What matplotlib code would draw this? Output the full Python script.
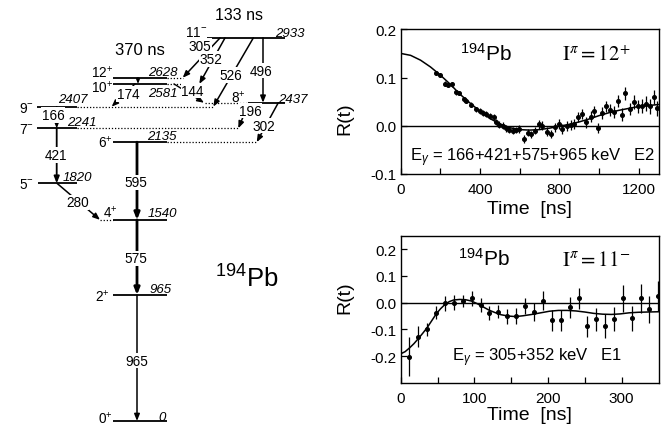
import matplotlib
matplotlib.use('Agg')
import matplotlib.pyplot as plt

plt.rcParams['font.family'] = 'Liberation Sans'
plt.rcParams['mathtext.fontset'] = 'custom'
plt.rcParams['mathtext.rm'] = 'Liberation Sans'
plt.rcParams['mathtext.it'] = 'Liberation Sans:italic'
plt.rcParams['mathtext.bf'] = 'Liberation Sans:bold'
plt.rcParams['mathtext.sf'] = 'Liberation Sans'

# ---------------- level scheme of 194Pb ----------------
level_names = ['0+', '2+', '4+', '5-', '6+', '7-', '9-', '8+', '10+', '12+', '11-']
level_keV = [0, 965, 1540, 1820, 2135, 2241, 2407, 2437, 2581, 2628, 2933]

gamma_keV = [965, 575, 595, 280, 421, 166, 302, 196, 144, 174, 496, 526, 352, 305, 47]
gamma_from = ['2+', '4+', '6+', '5-', '7-', '9-', '8+', '8+', '10+', '10+', '11-', '11-', '11-', '11-', '12+']
gamma_to = ['0+', '2+', '4+', '4+', '5-', '7-', '6+', '7-', '8+', '9-', '8+', '9-', '10+', '12+', '10+']
gamma_labelled = [True] * 14 + [False]

isomer_names = ['133 ns', '370 ns']
nucleus = '194'

# ---------------- R(t) for the 12+ isomer ----------------
t12 = [180, 197, 222, 239, 259, 281, 292, 317, 331, 356, 381, 398, 414, 431, 448,
       468, 481, 498, 515, 532, 548, 565, 582, 598, 620, 640, 657, 677, 699, 715,
       737, 757, 777, 799, 815, 837, 858, 874, 896, 916, 936, 958, 974, 995, 1016,
       1036, 1055, 1075, 1096, 1116, 1133, 1155, 1175, 1195, 1217, 1237, 1255, 1275, 1292]
r12 = [0.110, 0.105, 0.087, 0.085, 0.086, 0.069, 0.068, 0.055, 0.052, 0.044, 0.034,
       0.030, 0.027, 0.025, 0.021, 0.018, 0.008, 0.002, 0.000, -0.005, -0.009, -0.010,
       -0.009, -0.007, -0.028, -0.014, -0.018, -0.010, 0.003, 0.000, -0.012, -0.017,
       -0.003, 0.003, -0.007, 0.000, 0.002, 0.003, 0.018, 0.024, 0.007, 0.019, 0.030,
       -0.005, 0.026, 0.040, 0.033, 0.028, 0.051, 0.023, 0.067, 0.035, 0.049, 0.040,
       0.041, 0.046, 0.040, 0.060, 0.036]
e12 = [0.004, 0.004, 0.005, 0.005, 0.005, 0.005, 0.005, 0.005, 0.005, 0.005, 0.005,
       0.006, 0.006, 0.006, 0.006, 0.006, 0.006, 0.007, 0.007, 0.007, 0.007, 0.007,
       0.007, 0.008, 0.008, 0.008, 0.008, 0.008, 0.009, 0.009, 0.009, 0.009, 0.009,
       0.010, 0.010, 0.010, 0.010, 0.010, 0.010, 0.011, 0.011, 0.011, 0.011, 0.011,
       0.012, 0.012, 0.012, 0.012, 0.013, 0.013, 0.013, 0.013, 0.014, 0.014, 0.014,
       0.015, 0.015, 0.015, 0.015]
fit12_t = [0, 50, 100, 150, 200, 250, 300, 350, 400, 450, 500, 550, 600, 650, 700,
           750, 800, 850, 900, 950, 1000, 1050, 1100, 1150, 1200, 1250, 1300]
fit12_r = [0.150, 0.146, 0.136, 0.122, 0.105, 0.086, 0.065, 0.047, 0.030, 0.015, 0.004,
           -0.004, -0.008, -0.009, -0.008, -0.005, -0.001, 0.003, 0.008, 0.014, 0.021,
           0.027, 0.032, 0.036, 0.040, 0.042, 0.044]

# ---------------- R(t) for the 11- isomer ----------------
t11 = [11.3, 23.6, 35.8, 47.7, 59.9, 72.2, 84.1, 96.3, 108.6, 120.3, 132.6, 144.8,
       156.7, 168.9, 181.2, 193.0, 205.3, 217.6, 229.3, 241.6, 253.0, 265.7, 277.9,
       289.2, 302.0, 314.3, 325.6, 336.9, 349.2]
r11 = [-0.202, -0.127, -0.100, -0.037, -0.003, 0.000, 0.006, 0.016, -0.009, -0.040,
       -0.034, -0.050, -0.050, -0.013, -0.035, 0.008, -0.065, -0.065, -0.018, 0.016,
       -0.088, -0.062, -0.088, -0.062, 0.016, -0.059, 0.016, -0.025, 0.025]
e11 = [0.072, 0.039, 0.025, 0.025, 0.028, 0.028, 0.023, 0.028, 0.025, 0.026, 0.025,
       0.028, 0.029, 0.031, 0.033, 0.035, 0.039, 0.039, 0.039, 0.039, 0.040, 0.042,
       0.045, 0.045, 0.050, 0.045, 0.055, 0.050, 0.056]
fit11_t = [0, 6, 12, 18, 24, 30, 36, 42, 48, 54, 60, 66, 72, 80, 88, 96, 104, 112,
           120, 128, 136, 146, 156, 166, 178, 190, 202, 214, 226, 238, 250, 262, 274,
           286, 298, 310, 322, 334, 350]
fit11_r = [-0.191, -0.183, -0.169, -0.153, -0.134, -0.114, -0.093, -0.068, -0.043,
           -0.023, -0.007, 0.004, 0.010, 0.012, 0.011, 0.006, -0.004, -0.016, -0.028,
           -0.037, -0.045, -0.050, -0.052, -0.049, -0.044, -0.038, -0.032, -0.029,
           -0.029, -0.031, -0.035, -0.040, -0.043, -0.044, -0.042, -0.038, -0.036,
           -0.035, -0.034]

panel_spin = [r'$\mathrm{I}^{\pi} = 12^{+}$', r'$\mathrm{I}^{\pi} = 11^{-}$']
panel_gamma = ['E$_{\\gamma}$ = 166+421+575+965 keV   E2', 'E$_{\\gamma}$ = 305+352 keV   E1']
xticks12 = [0, 400, 800, 1200]
yticks12 = [-0.1, 0.0, 0.1, 0.2]
ytlab12 = ['-0.1', '0.0', '0.1', '0.2']
xticks11 = [0, 100, 200, 300]
yticks11 = [-0.2, -0.1, 0.0, 0.1, 0.2]
ytlab11 = ['-0.2', '-0.1', '0.0', '0.1', '0.2']

# ---------------- figure ----------------
W, H = 663, 427
fig = plt.figure(figsize=(W / 100, H / 100), dpi=100)

# level scheme axes: x in pixels, y in keV (linear energy scale)
Y0, PXK = 422.0, 0.1306


def kev(ypx):
    return (Y0 - ypx) / PXK


def dk(dpx):
    return dpx / PXK


ax0 = fig.add_axes([0, 0, 318 / W, 1])
ax0.set_xlim(0, 318)
ax0.set_ylim(kev(H), kev(0))
ax0.axis('off')

E = dict(zip(level_names, level_keV))

# level lines: solid part and dotted extension (x in px)
solid = {'0+': (113, 167), '2+': (113, 167), '4+': (113, 167), '5-': (38, 77),
         '6+': (113, 167), '7-': (37, 77), '9-': (37, 77), '8+': (248, 285),
         '10+': (113, 167), '12+': (113, 167), '11-': (207, 285)}
dotted = {'4+': (100, 113), '6+': (167, 257), '7-': (77, 238), '9-': (77, 213),
          '8+': (205, 248), '10+': (167, 200), '12+': (167, 183)}
for name in level_names:
    x0, x1 = solid[name]
    ax0.plot([x0, x1], [E[name], E[name]], color='k', lw=1.3, solid_capstyle='butt')
    if name in dotted:
        x0, x1 = dotted[name]
        ax0.plot([x0, x1], [E[name], E[name]], color='k', lw=0.9, ls=(0, (1, 1.5)))

# spin labels: right edge x, baseline offset (px, up)
spin_pos = {'0+': (113, -2), '2+': (110, -5.6), '4+': (118, 3.4), '5-': (34, -5),
            '6+': (113, -4), '7-': (34, -4.3), '9-': (34, -5.6), '8+': (246, 0.7),
            '10+': (113, -8), '12+': (113, 1), '11-': (207, 2)}
# energy labels: left edge x, baseline offset (px, up)
en_pos = {'0+': (158, 0.8), '2+': (150, 3.4), '4+': (148, 3.4), '5-': (63, 3.3),
          '6+': (147, 3.3), '7-': (67, 3), '9-': (58, 4.4), '8+': (278, 0.7),
          '10+': (148, -11.7), '12+': (148, 2.3), '11-': (275, 1.6)}
for name in level_names:
    num, sign = name[:-1], name[-1]
    xs, dy = spin_pos[name]
    ax0.text(xs, E[name] + dk(dy), num + '$^{' + sign + '}$', ha='right', va='baseline',
             fontsize=9.8)
    xe, dy = en_pos[name]
    ax0.text(xe, E[name] + dk(dy), str(E[name]), ha='left', va='baseline',
             fontsize=9.5, fontstyle='italic')

# gamma transitions: x start, x end (px), line width, label centre (px)
g_layout = {965: (137, 137, 1.1, (136.7, 361.7)),
            575: (137, 137, 2.0, (135.8, 259.3)),
            595: (137, 137, 2.0, (135.8, 183.3)),
            280: (57, 100, 1.1, (77.5, 203.3)),
            421: (56.7, 56.7, 1.3, (55.8, 156)),
            166: (56.7, 56.7, 1.1, (53.3, 116)),
            302: (278.3, 256.7, 1.1, (264, 126.7)),
            196: (249, 238.3, 1.1, (250, 111.7)),
            144: (174, 204, 1.0, (192.5, 91.7)),
            174: (135, 111.7, 1.0, (128.3, 95)),
            496: (263, 263, 1.1, (261, 71.7)),
            526: (253.3, 213.3, 1.1, (231, 76)),
            352: (225, 199.3, 1.1, (210.8, 60)),
            305: (220, 182.7, 1.1, (200, 46.7)),
            47: (138, 138, 1.0, None)}
for g, gf, gt, lab in zip(gamma_keV, gamma_from, gamma_to, gamma_labelled):
    xa, xb, lw, lpos = g_layout[g]
    ms = 5 if g == 47 else 8
    ax0.annotate('', xy=(xb, E[gt]), xytext=(xa, E[gf]),
                 arrowprops=dict(arrowstyle='-|>,head_length=0.5,head_width=0.2',
                                 lw=lw, color='k', shrinkA=0, shrinkB=0,
                                 mutation_scale=ms), zorder=2)
    if lab:
        ax0.text(lpos[0], kev(lpos[1]), str(g), ha='center', va='center', fontsize=9.8,
                 zorder=4, bbox=dict(boxstyle='square,pad=0.05', fc='white', ec='none'))

ax0.text(239, kev(15), isomer_names[0], ha='center', va='center', fontsize=11.5)
ax0.text(140, kev(50), isomer_names[1], ha='center', va='center', fontsize=12)
ax0.text(215, kev(288), '$^{' + nucleus + '}$Pb', ha='left', va='baseline', fontsize=18.5)

# ---------------- R(t) panels ----------------
ax1 = fig.add_axes([400.7 / W, 1 - 175 / H, 257.8 / W, 144.7 / H])
ax2 = fig.add_axes([400.7 / W, 1 - 384 / H, 257.8 / W, 147.3 / H])

panels = [
    (ax1, t12, r12, e12, fit12_t, fit12_r, (0, 1300), (-0.1, 0.2), xticks12, [200, 600, 1000],
     yticks12, ytlab12, panel_spin[0], panel_gamma[0], (0.23, 0.786), (0.624, 0.786),
     (0.036, 0.098), 0.387, -0.235),
    (ax2, t11, r11, e11, fit11_t, fit11_r, (0, 350), (-0.3, 0.25), xticks11, [50, 150, 250],
     yticks11, ytlab11, panel_spin[1], panel_gamma[1], (0.222, 0.803), (0.626, 0.803),
     (0.199, 0.151), 0.584, -0.215),
]
for (ax, t, r, e, ft, fr, xl, yl, xt, xtm, yt, ytl, spin, gam, pnuc, pspin, pgam,
     ylab_y, xlab_y) in panels:
    ax.axhline(0, color='k', lw=1.0, zorder=1)
    ax.plot(ft, fr, color='k', lw=1.1, zorder=2)
    ax.errorbar(t, r, yerr=e, fmt='o', ms=2.6, color='k', ecolor='k', elinewidth=0.9,
                capsize=0, zorder=3)
    ax.set_xlim(*xl)
    ax.set_ylim(*yl)
    ax.set_xticks(xt)
    ax.set_xticks(xtm, minor=True)
    ax.set_yticks(yt)
    ax.set_yticklabels(ytl)
    ax.tick_params(which='both', direction='in', length=4, width=0.9, labelsize=11)
    ax.tick_params(axis='x', pad=6)
    ax.tick_params(axis='y', pad=3)
    for sp in ax.spines.values():
        sp.set_linewidth(1.0)
    ax.set_ylabel('R(t)', fontsize=14)
    ax.yaxis.set_label_coords(-0.216, ylab_y)
    ax.yaxis.label.set_va('center')
    ax.set_xlabel('Time  [ns]', fontsize=14)
    ax.xaxis.set_label_coords(0.5, xlab_y)
    ax.xaxis.label.set_va('center')
    ax.text(pnuc[0], pnuc[1], '$^{' + nucleus + '}$Pb', transform=ax.transAxes,
            ha='left', va='baseline', fontsize=15)
    ax.text(pspin[0], pspin[1], spin, transform=ax.transAxes, ha='left', va='baseline',
            fontsize=15, math_fontfamily='stix')
    ax.text(pgam[0], pgam[1], gam, transform=ax.transAxes, ha='left', va='baseline',
            fontsize=12)

fig.savefig('out.png', dpi=100, facecolor='white')
plt.close(fig)
